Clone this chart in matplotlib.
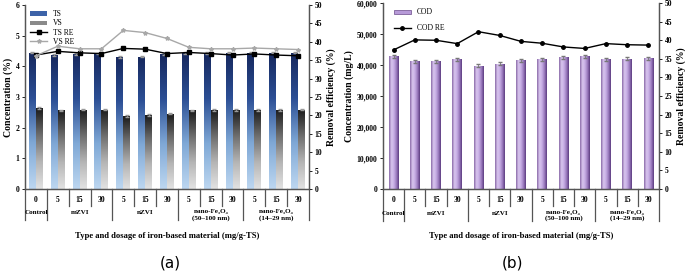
import numpy as np
import matplotlib
matplotlib.use('Agg')
import matplotlib.pyplot as plt
from matplotlib.colors import LinearSegmentedColormap
from matplotlib.lines import Line2D
from matplotlib.patches import Patch

plt.rcParams['font.family'] = ['Liberation Serif', 'DejaVu Serif']
plt.rcParams['font.weight'] = 'bold'

doses = ['0', '5', '15', '30', '5', '15', '30', '5', '15', '30', '5', '15', '30']
groups = ['Control', 'mZVI', 'nZVI', 'nano-Fe\u2083O\u2084\n(50\u2013100 nm)', 'nano-Fe\u2083O\u2084\n(14\u201329 nm)']
group_size = [1, 3, 3, 3, 3]

ts = [4.45, 4.37, 4.41, 4.42, 4.31, 4.32, 4.40, 4.43, 4.43, 4.45, 4.45, 4.45, 4.45]
ts_err = [0.03] * 13
vs = [2.64, 2.56, 2.59, 2.59, 2.38, 2.40, 2.46, 2.56, 2.57, 2.58, 2.58, 2.58, 2.59]
vs_err = [0.03] * 13
ts_re = [36.4, 37.4, 37.0, 36.8, 38.2, 38.0, 36.8, 37.1, 36.8, 36.4, 36.7, 36.4, 36.2]
vs_re = [36.2, 38.8, 38.1, 38.1, 43.1, 42.5, 40.9, 38.5, 38.1, 38.1, 38.3, 38.1, 37.9]

cod = [42800, 41200, 41200, 41900, 39800, 40400, 41500, 41900, 42500, 42800, 41900, 42000, 42200]
cod_err = [450] * 13
cod_re = [37.4, 40.1, 40.0, 39.1, 42.3, 41.3, 39.7, 39.2, 38.2, 37.8, 39.1, 38.8, 38.7]

ts_cmap = LinearSegmentedColormap.from_list('ts', ['#bcd6f0', '#7fa8d6', '#2c4f95', '#16285e'])
vs_cmap = LinearSegmentedColormap.from_list('vs', ['#e2e2e2', '#b5b5b5', '#6e6e6e', '#1c1c1c'])
cod_cmap = LinearSegmentedColormap.from_list('cod', ['#8a6aa8', '#d9c6ef', '#c7aee4', '#9c7cc0', '#5c3c80'])

fs = 5.5


def grad_bars(ax, bars, cmap, horizontal=False):
    for b in bars:
        x0, y0 = b.get_x(), b.get_y()
        w, h = b.get_width(), b.get_height()
        if horizontal:
            g = np.linspace(0, 1, 64).reshape(1, -1)
        else:
            g = np.linspace(0, 1, 64).reshape(-1, 1)
        im = ax.imshow(g, extent=[x0, x0 + w, y0, y0 + h], origin='lower', aspect='auto',
                       cmap=cmap, zorder=2, interpolation='bilinear')
        im.set_clip_path(b)
        b.set_facecolor('none')


def category_table(ax):
    n = len(doses)
    ax.set_xticks([])
    tr = ax.get_xaxis_transform()
    for i, d in enumerate(doses):
        ax.text(i, -0.06, d, transform=tr, ha='center', va='center', fontsize=fs, weight='bold')
    bounds = np.cumsum([0] + group_size)
    for i in range(1, n):
        if i in bounds:
            ax.plot([i - 0.5, i - 0.5], [0, -0.17], transform=tr, color='#555555', lw=0.9, clip_on=False)
        else:
            ax.plot([i - 0.5, i - 0.5], [0, -0.09], transform=tr, color='#555555', lw=0.9, clip_on=False)
    for xe in [-0.5, n - 0.5]:
        ax.plot([xe, xe], [0, -0.17], transform=tr, color='#555555', lw=0.9, clip_on=False)
    for k, g in enumerate(groups):
        c = (bounds[k] + bounds[k + 1] - 1) / 2
        y = -0.13 if '\n' not in g else -0.142
        ax.text(c, y, g, transform=tr, ha='center', va='center', fontsize=fs - 0.4,
                weight='bold', linespacing=1.15)
    ax.text(n / 2 - 0.5, -0.255, 'Type and dosage of iron-based material (mg/g-TS)', transform=tr,
            ha='center', va='center', fontsize=6.2, weight='bold')


fig = plt.figure(figsize=(6.85, 2.73), dpi=100)
x = np.arange(len(doses))

# (a)
ax1 = fig.add_axes([0.0365, 0.3077, 0.4146, 0.674])
bw = 0.32
b1 = ax1.bar(x - bw / 2, ts, bw, zorder=2, edgecolor='none')
b2 = ax1.bar(x + bw / 2, vs, bw, zorder=2, edgecolor='none')
grad_bars(ax1, b1, ts_cmap)
grad_bars(ax1, b2, vs_cmap)
ax1.errorbar(x - bw / 2, ts, yerr=ts_err, fmt='none', ecolor='#999999', elinewidth=0.6, capsize=1.2, zorder=3)
ax1.errorbar(x + bw / 2, vs, yerr=vs_err, fmt='none', ecolor='#999999', elinewidth=0.6, capsize=1.2, zorder=3)
ax1.set_xlim(-0.5, len(doses) - 0.5)
ax1.set_ylim(0, 6)
ax1.set_yticks(range(0, 7))
ax1.set_ylabel('Concentration (%)', fontsize=7, weight='bold', labelpad=2)
ax1r = ax1.twinx()
ax1r.plot(x, ts_re, color='black', marker='s', ms=2.5, lw=1.0, zorder=4)
ax1r.plot(x, vs_re, color='#a8a8a8', marker='*', ms=3, lw=1.0, zorder=4)
ax1r.set_ylim(0, 50)
ax1r.set_yticks(range(0, 51, 5))
ax1r.set_ylabel('Removal efficiency (%)', fontsize=7, weight='bold', labelpad=3)
for a in (ax1, ax1r):
    a.tick_params(labelsize=fs, length=2, width=0.6, pad=2)
    a.spines['top'].set_visible(False)
    for s in ['left', 'right', 'bottom']:
        a.spines[s].set_color('#555555')
        a.spines[s].set_linewidth(0.9)
category_table(ax1)
h1 = [Patch(facecolor='#3d63a8', edgecolor='none'), Patch(facecolor='#8a8a8a', edgecolor='none'),
      Line2D([], [], color='black', marker='s', ms=2.5, lw=1.0),
      Line2D([], [], color='#a8a8a8', marker='*', ms=3, lw=1.0)]
ax1r.legend(h1, ['TS', 'VS', 'TS RE', 'VS RE'], loc='upper left', bbox_to_anchor=(0.0, 1.0),
            frameon=False, handlelength=2.2, handleheight=0.5, labelspacing=0.15,
            borderaxespad=0.3, prop={'weight': 'normal', 'size': fs})

# (b)
ax2 = fig.add_axes([0.559, 0.3077, 0.403, 0.681])
b3 = ax2.bar(x, cod, 0.45, zorder=2, edgecolor='none')
grad_bars(ax2, b3, cod_cmap, horizontal=True)
ax2.errorbar(x, cod, yerr=cod_err, fmt='none', ecolor='#777777', elinewidth=0.6, capsize=1.5, zorder=3)
ax2.set_xlim(-0.5, len(doses) - 0.5)
ax2.set_ylim(0, 60000)
ax2.set_yticks(range(0, 60001, 10000))
ax2.set_yticklabels(['{:,}'.format(v) for v in range(0, 60001, 10000)])
ax2.set_ylabel('Concentration (mg/L)', fontsize=7, weight='bold', labelpad=2)
ax2r = ax2.twinx()
ax2r.plot(x, cod_re, color='black', marker='o', ms=2.5, lw=1.0, zorder=4)
ax2r.set_ylim(0, 50)
ax2r.set_yticks(range(0, 51, 5))
ax2r.set_ylabel('Removal efficiency (%)', fontsize=7, weight='bold', labelpad=3)
for a in (ax2, ax2r):
    a.tick_params(labelsize=fs, length=2, width=0.6, pad=2)
    a.spines['top'].set_visible(False)
    for s in ['left', 'right', 'bottom']:
        a.spines[s].set_color('#555555')
        a.spines[s].set_linewidth(0.9)
category_table(ax2)
h2 = [Patch(facecolor='#b79ad8', edgecolor='#6a4a8a', lw=0.5),
      Line2D([], [], color='black', marker='o', ms=2.5, lw=1.0)]
ax2r.legend(h2, ['COD', 'COD RE'], loc='upper left', bbox_to_anchor=(0.02, 1.0),
            frameon=False, handlelength=2.2, handleheight=0.5, labelspacing=1.0,
            borderaxespad=0.3, prop={'weight': 'normal', 'size': fs})

fig.text(0.248, 0.035, '(a)', fontsize=11, family='DejaVu Sans', weight='normal', ha='center', va='center')
fig.text(0.748, 0.035, '(b)', fontsize=11, family='DejaVu Sans', weight='normal', ha='center', va='center')

fig.savefig('out.png', dpi=100)
